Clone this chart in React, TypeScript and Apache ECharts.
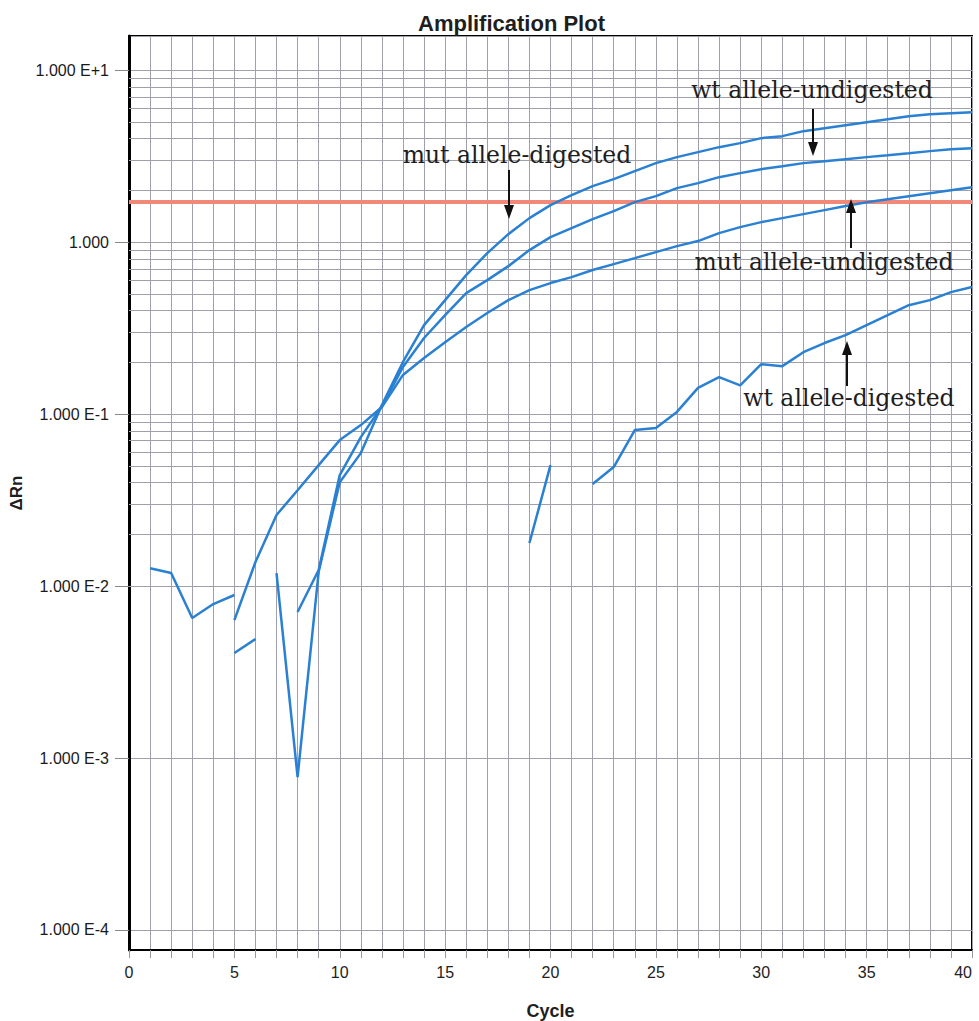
import React, { useEffect, useRef } from "react";
import * as echarts from "echarts";

// ---------- data ----------
const cycles = [
  1, 2, 3, 4, 5, 6, 7, 8, 9, 10, 11, 12, 13, 14, 15, 16, 17, 18, 19, 20,
  21, 22, 23, 24, 25, 26, 27, 28, 29, 30, 31, 32, 33, 34, 35, 36, 37, 38, 39, 40,
];

// ΔRn per cycle (null = no value shown, i.e. non-positive on a log axis)
const mutAlleleDigested = [
  null, null, null, null, null, null, 0.0119, 0.000775, 0.0121, 0.0402,
  0.0593, 0.113, 0.201, 0.329, 0.46, 0.643, 0.863, 1.113, 1.379, 1.641,
  1.876, 2.117, 2.324, 2.587, 2.88, 3.121, 3.337, 3.567, 3.764, 4.024,
  4.133, 4.419, 4.6, 4.789, 4.985, 5.189, 5.402, 5.548, 5.623, 5.699,
];
const wtAlleleUndigested = [
  null, null, null, null, 0.00408, 0.00492, null, 0.00706, 0.0124, 0.0442,
  0.0735, 0.111, 0.188, 0.277, 0.376, 0.505, 0.601, 0.725, 0.899, 1.069,
  1.206, 1.36, 1.514, 1.708, 1.851, 2.061, 2.203, 2.387, 2.519, 2.657,
  2.766, 2.88, 2.958, 3.038, 3.121, 3.205, 3.292, 3.382, 3.473, 3.52,
];
const mutAlleleUndigested = [
  null, null, null, null, 0.00634, 0.0138, 0.0259, 0.0361, 0.0505, 0.0706,
  0.0863, 0.11, 0.169, 0.212, 0.262, 0.321, 0.387, 0.46, 0.526, 0.578,
  0.626, 0.688, 0.745, 0.807, 0.875, 0.948, 1.014, 1.128, 1.222, 1.307,
  1.379, 1.455, 1.535, 1.62, 1.708, 1.778, 1.851, 1.927, 2.006, 2.088,
];
const wtAlleleDigested = [
  0.0127, 0.0119, 0.00652, 0.00786, 0.00887, null, null, null, null, null,
  null, null, null, null, null, null, null, null, 0.0178, 0.0505,
  null, 0.0392, 0.0492, 0.0807, 0.0829, 0.103, 0.142, 0.164, 0.147, 0.195,
  0.19, 0.229, 0.259, 0.288, 0.329, 0.376, 0.43, 0.46, 0.512, 0.548,
];

const thresholdValue = 1.71;

const yExponents = [-4, -3, -2, -1, 0, 1];
const yTickLabels = ["1.000 E-4", "1.000 E-3", "1.000 E-2", "1.000 E-1", "1.000", "1.000 E+1"];
const minorMultipliers = [2, 3, 4, 5, 6, 7, 8, 9];

const annotationLabels = [
  "mut allele-digested",
  "wt allele-undigested",
  "mut allele-undigested",
  "wt allele-digested",
];

// ---------- layout / style ----------
const Y_MIN = 7.65e-5;
const Y_MAX = 15.8;
const CURVE_COLOR = "#2a80d2";
const GRID_COLOR = "#a0a0ac";
const SANS = "'Liberation Sans', Arial, sans-serif";
const SERIF = "'DejaVu Serif', 'Liberation Serif', serif";

function toPairs(vals: (number | null)[]) {
  return cycles.map((c, i) => [c, vals[i] == null ? "-" : vals[i]]);
}

function arrow(x: number, tail: number, tip: number) {
  const dir = tip > tail ? 1 : -1;
  const headLen = 14;
  const halfW = 5;
  return [
    {
      type: "line",
      shape: { x1: x, y1: tail, x2: x, y2: tip - dir * headLen + dir * 2 },
      style: { stroke: "#111", lineWidth: 2 },
      z: 100,
    },
    {
      type: "polygon",
      shape: {
        points: [
          [x - halfW, tip - dir * headLen],
          [x + halfW, tip - dir * headLen],
          [x, tip],
        ],
      },
      style: { fill: "#111" },
      z: 100,
    },
  ];
}

export default function App() {
  const ref = useRef<HTMLDivElement>(null);

  useEffect(() => {
    if (!ref.current) return;
    const chart = echarts.init(ref.current, undefined, { renderer: "svg" });

    const minorValues: number[] = [];
    for (let e = -5; e <= 1; e++) {
      for (const m of minorMultipliers) {
        const v = m * Math.pow(10, e);
        if (v > Y_MIN && v < Y_MAX) minorValues.push(v);
      }
    }

    const curve = (name: string, vals: (number | null)[]) => ({
      type: "line",
      name,
      data: toPairs(vals),
      showSymbol: false,
      symbol: "none",
      connectNulls: false,
      z: 5,
      lineStyle: { color: CURVE_COLOR, width: 2.5 },
      itemStyle: { color: CURVE_COLOR },
    });

    const textPos = [
      { x: 517, y: 155 },
      { x: 812, y: 90 },
      { x: 824, y: 262 },
      { x: 849, y: 398 },
    ];

    const graphics: any[] = [];
    annotationLabels.forEach((t, i) => {
      graphics.push({
        type: "text",
        x: textPos[i].x,
        y: textPos[i].y,
        z: 100,
        style: {
          text: t,
          fill: "#1e1e1e",
          font: `23.5px ${SERIF}`,
          textAlign: "center",
          textVerticalAlign: "middle",
        },
      });
    });
    graphics.push(...arrow(509, 170, 219));
    graphics.push(...arrow(813, 109, 156));
    graphics.push(...arrow(851, 248, 199));
    graphics.push(...arrow(847, 386, 341));

    chart.setOption({
      animation: false,
      backgroundColor: "#fff",
      title: {
        text: "Amplification Plot",
        left: 418,
        top: 12,
        padding: 0,
        textStyle: { fontFamily: SANS, fontSize: 22, fontWeight: "bold", color: "#1e1e1e" },
      },
      grid: {
        left: 129,
        right: 7,
        top: 36,
        bottom: 71,
        show: true,
        borderColor: "#000",
        borderWidth: 2,
        containLabel: false,
        outerBoundsMode: "none",
      },
      xAxis: {
        type: "value",
        min: 0,
        max: 40,
        interval: 5,
        name: "Cycle",
        nameLocation: "middle",
        nameGap: 52,
        nameTextStyle: { fontFamily: SANS, fontSize: 18, fontWeight: "bold", color: "#1e1e1e" },
        axisLine: { show: true, onZero: false, lineStyle: { color: "#000", width: 2 } },
        axisTick: { show: true, length: 8, lineStyle: { color: "#999" } },
        minorTick: { show: true, splitNumber: 5, length: 8, lineStyle: { color: "#999" } },
        splitLine: { show: true, lineStyle: { color: GRID_COLOR, width: 1 } },
        minorSplitLine: { show: true, lineStyle: { color: GRID_COLOR, width: 1 } },
        axisLabel: {
          margin: 14,
          fontSize: 16,
          color: "#222",
          fontFamily: SANS,
          alignMaxLabel: "right",
        },
      },
      yAxis: {
        type: "log",
        logBase: 10,
        min: Y_MIN,
        max: Y_MAX,
        name: "ΔRn",
        nameLocation: "middle",
        nameRotate: 90,
        nameGap: 84,
        nameTextStyle: { fontFamily: SANS, fontSize: 17, fontWeight: "bold", color: "#1e1e1e" },
        axisLine: { show: true, lineStyle: { color: "#000", width: 3 } },
        axisTick: { show: true, length: 14, lineStyle: { color: "#888" } },
        splitLine: { show: true, lineStyle: { color: GRID_COLOR, width: 1 } },
        axisLabel: {
          margin: 20,
          fontSize: 16,
          color: "#1a1a1a",
          fontFamily: SANS,
          showMinLabel: false,
          showMaxLabel: false,
          formatter: (v: number) => {
            const lg = Math.log10(v);
            const e = Math.round(lg);
            if (Math.abs(lg - e) > 0.01) return "";
            const idx = yExponents.indexOf(e);
            return idx >= 0 ? yTickLabels[idx] : "";
          },
        },
      },
      series: [
        {
          type: "line",
          name: "gridlines",
          data: [],
          silent: true,
          z: 1,
          markLine: {
            silent: true,
            symbol: ["none", "none"],
            label: { show: false },
            lineStyle: { color: GRID_COLOR, width: 1, type: "solid" },
            data: [
              ...minorValues.map((v) => ({ yAxis: v })),
              { yAxis: thresholdValue, lineStyle: { color: "#f28878", width: 4, type: "solid" } },
            ],
          },
        },
        curve("mut allele-digested", mutAlleleDigested),
        curve("wt allele-undigested", wtAlleleUndigested),
        curve("mut allele-undigested", mutAlleleUndigested),
        curve("wt allele-digested", wtAlleleDigested),
      ],
      graphic: graphics,
    });

    return () => chart.dispose();
  }, []);

  return (
    <div
      ref={ref}
      style={{ position: "absolute", left: 0, top: 0, width: 979, height: 1021, background: "#fff" }}
    />
  );
}
